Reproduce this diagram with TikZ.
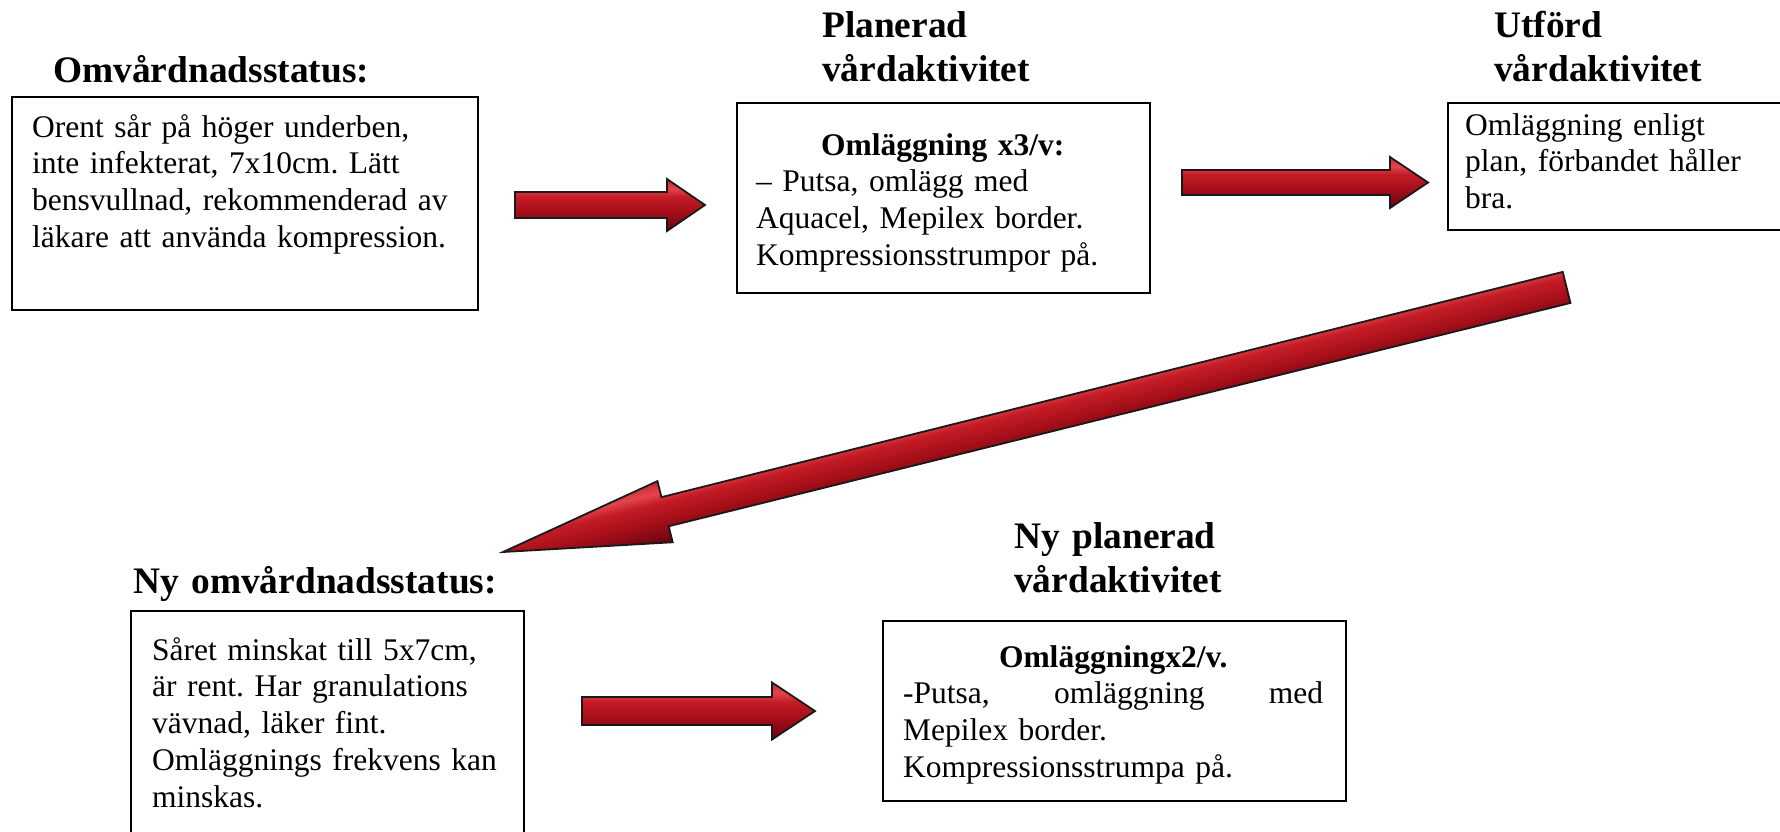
\documentclass[tikz,border=0pt]{standalone}
\usepackage{fontspec}
\setmainfont{Liberation Serif}
\usetikzlibrary{calc}
\frenchspacing
\definecolor{rA}{HTML}{5E0510}
\definecolor{rB}{HTML}{7C0812}
\definecolor{rC}{HTML}{A8101A}
\definecolor{rD}{HTML}{C41C26}
\definecolor{rE}{HTML}{E2464C}
\definecolor{rF}{HTML}{C82832}
\pgfdeclareverticalshading{redbar}{100bp}{color(0bp)=(rA); color(25bp)=(rA); color(31bp)=(rB); color(45bp)=(rC); color(58bp)=(rD); color(66bp)=(rE); color(75bp)=(rF); color(100bp)=(rF)}
\newcommand{\hblock}[5]{%
  \path[blockarrow] let \p1=(#1), \p2=(#2) in
    (\x1,\y1+#3) -- (\x2-#5,\y1+#3) -- (\x2-#5,\y1+#4) -- (\x2,\y1)
    -- (\x2-#5,\y1-#4) -- (\x2-#5,\y1-#3) -- (\x1,\y1-#3) -- cycle;}
\begin{document}
\begin{tikzpicture}[x=1pt,y=-1pt,
  box/.style={draw=black, line width=2pt, inner sep=0pt, anchor=north west},
  body/.style={inner sep=0pt, anchor=base west, align=left, font=\fontsize{31.5}{36.8}\selectfont\frenchspacing},
  title/.style={inner sep=0pt, anchor=base west, align=left, font=\fontsize{37.4}{44}\selectfont\bfseries},
  blockarrow/.style={shade, shading=redbar, draw=black!90, line width=1.8pt, line join=miter}]
\useasboundingbox (0,0) rectangle (1780,831);
\fill[white] (0,0) rectangle (1780,831);

% boxes
\node[box, minimum width=466pt, minimum height=213pt] (b1) at (11,96) {};
\node[box, minimum width=413pt, minimum height=190pt] (b2) at (736,102) {};
\node[box, minimum width=345pt, minimum height=127pt] (b3) at (1447,102) {};
\node[box, minimum width=393pt, minimum height=240pt] (b4) at (130,610) {};
\node[box, minimum width=463pt, minimum height=180pt] (b5) at (882,620) {};

% titles
\node[title, text width=400pt] (ti1) at (53,82) {Omvårdnadsstatus:};
\node[title, text width=300pt] (ti2) at (822,37) {Planerad\\vårdaktivitet};
\node[title, text width=280pt] (ti3) at (1494,37) {Utförd\\vårdaktivitet};
\node[title, text width=420pt] (ti4) at (133,593) {Ny omvårdnadsstatus:};
\node[title, text width=300pt] (ti5) at (1014,548) {Ny planerad\\vårdaktivitet};

% texts
\node[body, text width=440pt] (t1) at (32,137) {Orent sår på höger underben,\\inte infekterat, 7x10cm. Lätt\\bensvullnad, rekommenderad av\\läkare att använda kompression.};
\node[body, text width=373pt] (t2) at (756,155) {\centering\textbf{Omläggning x3/v:}\par\raggedright
– Putsa, omlägg med\\Aquacel, Mepilex border.\\Kompressionsstrumpor på.};
\node[body, text width=300pt] (t3) at (1465,135) {Omläggning enligt\\plan, förbandet håller\\bra.};
\node[body, text width=360pt] (t4) at (152,660) {Såret minskat till 5x7cm,\\är rent. Har granulations\\vävnad, läker fint.\\Omläggnings frekvens kan\\minskas.};
\node[body, text width=420pt] (t5) at (903,667) {\centering\textbf{Omläggningx2/v.}\par\raggedright
\leavevmode\hbox to 420pt{-Putsa,\hfill omläggning\hfill med}\\Mepilex border.\\Kompressionsstrumpa på.};

% arrow end points
\coordinate (a1s) at (515,205);  \coordinate (a1e) at (705,205);
\coordinate (a2s) at (1182,182.5); \coordinate (a2e) at (1428,182.5);
\coordinate (a4s) at (582,711);  \coordinate (a4e) at (815,711);

\hblock{a1s}{a1e}{13pt}{26pt}{38pt}
\hblock{a2s}{a2e}{12.5pt}{25.5pt}{38pt}
\hblock{a4s}{a4e}{14pt}{28.5pt}{43pt}

% diagonal arrow (tip at 503,552; tail towards upper right)
\begin{scope}[transform canvas={shift={(503,552)},rotate=13.97}]
  \path[blockarrow] (0,0) -- (167,-31.5) -- (167,-15) -- (1096,-16) -- (1096,16)
     -- (167,15) -- (167,31.5) -- cycle;
\end{scope}
\end{tikzpicture}
\end{document}
